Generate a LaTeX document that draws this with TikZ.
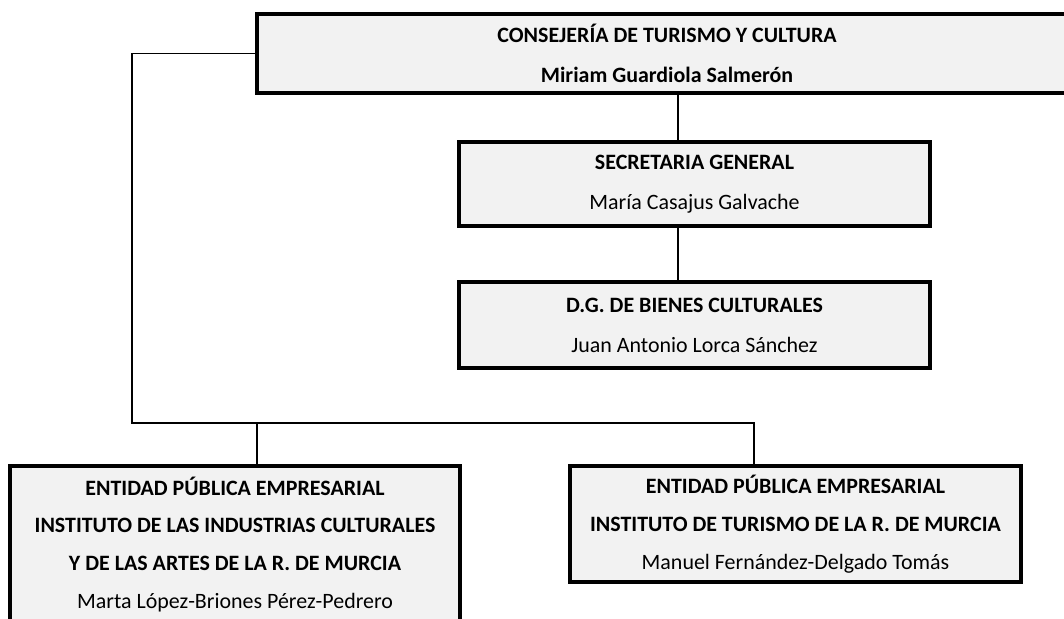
\documentclass[tikz,border=0pt]{standalone}
\usepackage{fontspec}
\setmainfont{Carlito}
\usepackage{xcolor}
\definecolor{boxGray}{HTML}{F2F2F2}
\usepackage{tikz}
\usetikzlibrary{calc}

\tikzset{
	orgbox/.style={draw=black, line width=2.9pt, fill=boxGray, inner sep=0pt, align=center, font=\fontsize{15.6}{28.5}\selectfont},
	lowbox/.style={orgbox, font=\fontsize{15.6}{27}\selectfont},
	link/.style={black, line width=1.1pt}
}

\begin{document}
\begin{tikzpicture}[x=0.025cm, y=-0.025cm]
	\useasboundingbox (0,0) rectangle (1064,618);
	\clip (0,0) rectangle (1064,618);
	% bus lines
	\coordinate (spine) at (678,0);
	\coordinate (bus) at (132,423);
	\coordinate (lJoin) at (257,423);
	\coordinate (rJoin) at (754,423);
	% boxes
	\node[orgbox, minimum width=20.5cm, minimum height=1.975cm] (consejeria) at (667,53.5)
		{\textbf{CONSEJERÍA DE TURISMO Y CULTURA}\\ \textbf{Miriam Guardiola Salmerón}};
	\node[orgbox, minimum width=11.775cm, minimum height=2.1cm] (secretaria) at (694.5,184)
		{\textbf{SECRETARIA GENERAL}\\ María Casajus Galvache};
	\node[orgbox, minimum width=11.775cm, minimum height=2.15cm] (bienes) at (694.5,325)
		{\textbf{D.G. DE BIENES CULTURALES}\\ Juan Antonio Lorca Sánchez};
	\node[lowbox, minimum width=11.25cm, minimum height=3.925cm] (icA) at (235,544.5)
		{\textbf{ENTIDAD PÚBLICA EMPRESARIAL}\\ \textbf{INSTITUTO DE LAS INDUSTRIAS CULTURALES}\\ \textbf{Y DE LAS ARTES DE LA R. DE MURCIA}\\ Marta López-Briones Pérez-Pedrero};
	\node[lowbox, minimum width=11.275cm, minimum height=2.9cm] (itrem) at (795.5,524)
		{\textbf{ENTIDAD PÚBLICA EMPRESARIAL}\\ \textbf{INSTITUTO DE TURISMO DE LA R. DE MURCIA}\\ Manuel Fernández-Delgado Tomás};
	% connectors
	\draw[link] (consejeria.south -| spine) -- (secretaria.north -| spine);
	\draw[link] (secretaria.south -| spine) -- (bienes.north -| spine);
	\draw[link] (consejeria.west) -| (bus) -- (rJoin) -- (rJoin |- itrem.north);
	\draw[link] (lJoin) -- (lJoin |- icA.north);

\end{tikzpicture}
\end{document}
